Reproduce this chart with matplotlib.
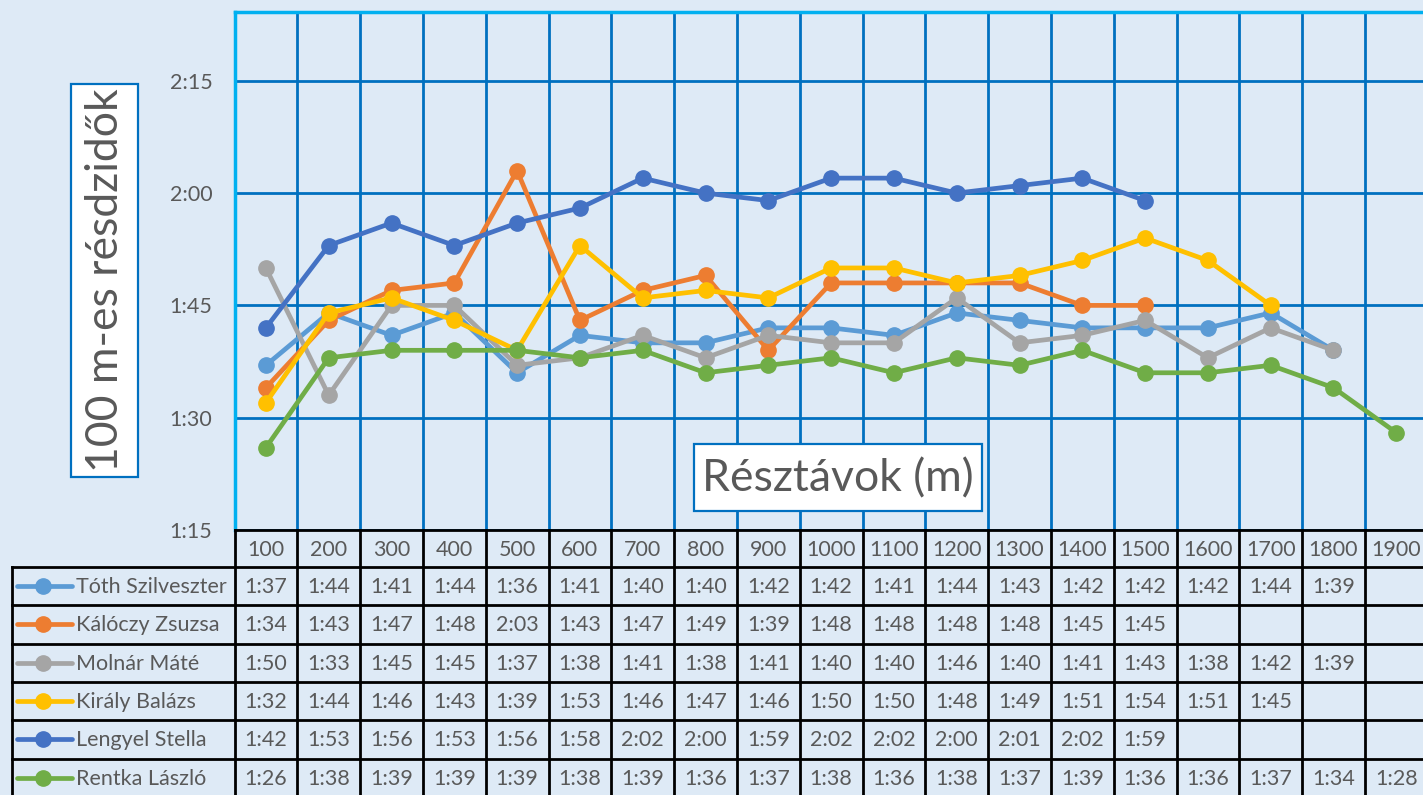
import matplotlib
matplotlib.use("Agg")
import matplotlib.pyplot as plt
from matplotlib.patches import Rectangle
from matplotlib.lines import Line2D
from matplotlib.ticker import FuncFormatter, FixedLocator

plt.rcParams['font.family'] = ['Lato', 'DejaVu Sans']

# ---------------- data ----------------
distances = [100, 200, 300, 400, 500, 600, 700, 800, 900, 1000,
             1100, 1200, 1300, 1400, 1500, 1600, 1700, 1800, 1900]

names = ["Tóth Szilveszter", "Kálóczy Zsuzsa", "Molnár Máté",
         "Király Balázs", "Lengyel Stella", "Rentka László"]

toth = ["1:37", "1:44", "1:41", "1:44", "1:36", "1:41", "1:40", "1:40", "1:42",
        "1:42", "1:41", "1:44", "1:43", "1:42", "1:42", "1:42", "1:44", "1:39"]
kaloczy = ["1:34", "1:43", "1:47", "1:48", "2:03", "1:43", "1:47", "1:49", "1:39",
           "1:48", "1:48", "1:48", "1:48", "1:45", "1:45"]
molnar = ["1:50", "1:33", "1:45", "1:45", "1:37", "1:38", "1:41", "1:38", "1:41",
          "1:40", "1:40", "1:46", "1:40", "1:41", "1:43", "1:38", "1:42", "1:39"]
kiraly = ["1:32", "1:44", "1:46", "1:43", "1:39", "1:53", "1:46", "1:47", "1:46",
          "1:50", "1:50", "1:48", "1:49", "1:51", "1:54", "1:51", "1:45"]
lengyel = ["1:42", "1:53", "1:56", "1:53", "1:56", "1:58", "2:02", "2:00", "1:59",
           "2:02", "2:02", "2:00", "2:01", "2:02", "1:59"]
rentka = ["1:26", "1:38", "1:39", "1:39", "1:39", "1:38", "1:39", "1:36", "1:37",
          "1:38", "1:36", "1:38", "1:37", "1:39", "1:36", "1:36", "1:37", "1:34", "1:28"]

series = [toth, kaloczy, molnar, kiraly, lengyel, rentka]
colors = ["#5B9BD5", "#ED7D31", "#A5A5A5", "#FFC000", "#4472C4", "#70AD47"]

y_ticks = ["1:15", "1:30", "1:45", "2:00", "2:15"]


def to_sec(s):
    m, sec = s.split(":")
    return int(m) * 60 + int(sec)


def fmt(v, pos=None):
    v = int(round(v))
    return f"{v // 60}:{v % 60:02d}"


# ---------------- layout ----------------
W, H = 1423, 795
BG = "#DEEAF6"
TXT = "#595959"
GRID = "#0070C0"
SPINE = "#00B0F0"
FS = 15.5

fig = plt.figure(figsize=(W / 100, H / 100), dpi=100, facecolor=BG)


def fx(px):
    return px / W


def fy(py):
    return 1 - py / H


ax_left, ax_right = 234.5, 234.5 + 19 * 62.8
ax_top, ax_bot = 11.5, 530.0
ax = fig.add_axes([fx(ax_left), fy(ax_bot), fx(ax_right - ax_left), (ax_bot - ax_top) / H])
ax.set_facecolor(BG)

n = len(distances)
ax.set_xlim(0.5, n + 0.5)
ymin = to_sec(y_ticks[0])
ymax = ymin + (ax_bot - ax_top) / 112.3 * 15
ax.set_ylim(ymin, ymax)

ax.yaxis.set_major_locator(FixedLocator([to_sec(t) for t in y_ticks]))
ax.yaxis.set_major_formatter(FuncFormatter(fmt))
ax.tick_params(axis='y', length=0, pad=16, labelsize=FS, labelcolor=TXT)
ax.set_xticks([])
ax.set_xticks([i + 0.5 for i in range(1, n)], minor=True)
ax.tick_params(axis='x', which='both', length=0, labelbottom=False)
ax.grid(True, axis='y', which='major', color=GRID, lw=2, zorder=1)
ax.grid(True, axis='x', which='minor', color=GRID, lw=2, zorder=1)
ax.set_axisbelow(True)

for s in ['right', 'bottom']:
    ax.spines[s].set_visible(False)
for s in ['left', 'top']:
    ax.spines[s].set_color(SPINE)
    ax.spines[s].set_linewidth(2.5)

for vals, c in zip(series, colors):
    xs = list(range(1, len(vals) + 1))
    ys = [to_sec(v) for v in vals]
    ax.plot(xs, ys, '-o', color=c, lw=3.4, ms=11, mec=c, mfc=c,
            solid_joinstyle='round', solid_capstyle='round', zorder=3, clip_on=False)

# ---------------- axis titles (boxed) ----------------
# y title box
x0, x1, y0, y1 = 71, 138, 84, 477
fig.patches.append(Rectangle((fx(x0), fy(y1)), fx(x1 - x0), (y1 - y0) / H,
                             transform=fig.transFigure, facecolor="white",
                             edgecolor=GRID, lw=1.6, zorder=5))
fig.text(fx((x0 + x1) / 2 + 1), fy((y0 + y1) / 2), "100 m-es résdzidők", rotation=90,
         ha='center', va='center', fontsize=32, color=TXT, zorder=6)

# x title box
x0, x1, y0, y1 = 694, 982, 444, 511
fig.patches.append(Rectangle((fx(x0), fy(y1)), fx(x1 - x0), (y1 - y0) / H,
                             transform=fig.transFigure, facecolor="white",
                             edgecolor=GRID, lw=1.6, zorder=5))
fig.text(fx((x0 + x1) / 2), fy((y0 + y1) / 2 + 1), "Résztávok (m)",
         ha='center', va='center', fontsize=32, color=TXT, zorder=6)

# ---------------- data table ----------------
tab_top, tab_bot = 530.0, 797.0
tax = fig.add_axes([fx(ax_left), fy(tab_bot), fx(ax_right - ax_left), (tab_bot - tab_top) / H])
tax.set_xlim(0.5, n + 0.5)
tax.set_ylim(tab_bot - tab_top, 0)
tax.axis('off')
tax.patch.set_alpha(0)

cat_px = 62.8
def px2x(px):
    return 0.5 - (ax_left - px) / cat_px

header_h = 37.0
row_h = 38.3
rows = [header_h + row_h * i for i in range(len(series) + 1)]
left_x = px2x(11.7)
lkw = dict(color='black', lw=2, clip_on=False, solid_capstyle='projecting')

# header row
tax.plot([0.5, n + 0.5], [0, 0], **lkw)
for i in range(n + 1):
    tax.plot([0.5 + i, 0.5 + i], [0, rows[-1]], **lkw)
for i, d in enumerate(distances):
    tax.text(i + 1, header_h / 2 + 1, str(d), ha='center', va='center', fontsize=FS, color=TXT)

# body rows
for r in rows[:-1]:
    tax.plot([left_x, n + 0.5], [r, r], **lkw)
tax.plot([left_x, left_x], [rows[0], rows[-1]], **lkw)

for k, (name, vals, c) in enumerate(zip(names, series, colors)):
    yc = rows[k] + row_h / 2
    tax.add_line(Line2D([px2x(17), px2x(72)], [yc, yc], color=c, lw=3.4,
                        solid_capstyle='round', clip_on=False))
    tax.add_line(Line2D([px2x(43)], [yc], marker='o', ms=11, color=c, clip_on=False))
    tax.text(px2x(76), yc + 1, name, ha='left', va='center', fontsize=FS, color=TXT)
    for i, v in enumerate(vals):
        tax.text(i + 1, yc + 1, v, ha='center', va='center', fontsize=FS, color=TXT)

fig.savefig("out.png", dpi=100, facecolor=BG)
